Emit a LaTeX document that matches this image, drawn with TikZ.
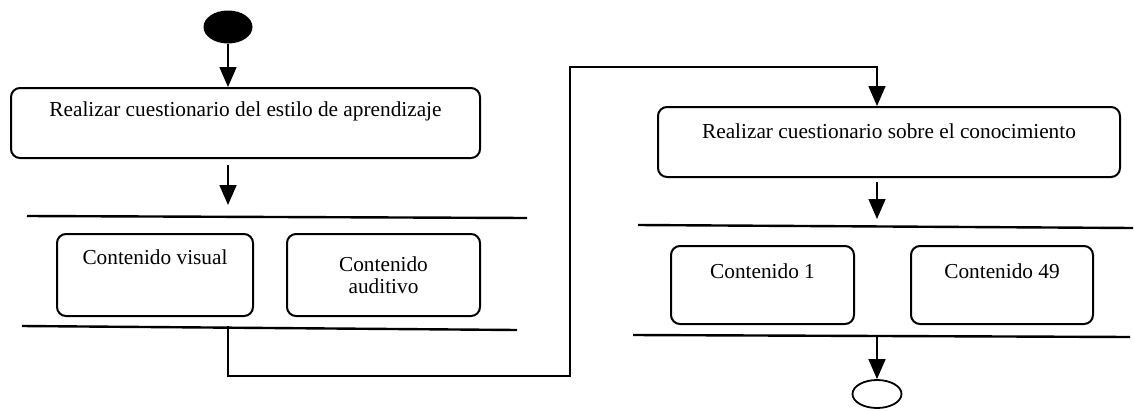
\documentclass[tikz,border=0pt]{standalone}
\usepackage{fontspec}
\setmainfont{Liberation Serif}
\usetikzlibrary{arrows.meta,shapes.geometric}

\tikzset{
  caja/.style={draw, line width=2pt, rounded corners=9pt, inner xsep=0pt, inner ysep=0pt},
  barra/.style={line width=2.4pt},
  flecha/.style={line width=1.6pt, -{Triangle[width=17pt,length=20pt]}},
  linea/.style={line width=1.6pt}
}

\begin{document}
\begin{tikzpicture}[x=1pt, y=-1pt, font=\fontsize{21.3}{22}\selectfont]
\useasboundingbox (0,0) rectangle (1135,410);

% Inicio y primer cuestionario
\node[ellipse, fill=black, minimum width=49pt, minimum height=33pt, inner sep=0pt] (inicio) at (228,27) {};
\node[caja, anchor=north west, minimum width=469pt, text height=28pt, text depth=42pt] (cuest1) at (10,87) {Realizar cuestionario del estilo de aprendizaje};
\draw[flecha] (inicio) -- (inicio |- cuest1.north);

% Bifurcacion por estilo
\coordinate (b1i) at (27,216);
\coordinate (b1d) at (527,218);
\draw[barra] (b1i) -- (b1d);
\draw[flecha, shorten <=6pt, shorten >=11pt] (inicio |- cuest1.south) -- (inicio |- b1i);

\node[caja, anchor=north west, minimum width=196pt, text height=30pt, text depth=52pt] (visual) at (56,233) {Contenido visual};
\node[caja, anchor=north west, minimum width=193pt, minimum height=82pt, align=center] (auditivo) at (286,233) {Contenido\\auditivo};

\coordinate (u1i) at (22,326);
\coordinate (u1d) at (517,330);
\draw[barra] (u1i) -- (u1d);

% Vuelta hacia el segundo cuestionario
\node[caja, anchor=north west, minimum width=462pt, text height=31pt, text depth=39pt] (cuest2) at (657,106) {Realizar cuestionario sobre el conocimiento};
\node[ellipse, draw, line width=1.8pt, minimum width=49pt, minimum height=28pt, inner sep=0pt] (fin) at (877,394) {};
\coordinate (vuelta1) at (570,376);
\coordinate (vuelta2) at (570,67);
\draw[flecha] (inicio |- u1i) |- (vuelta1) -- (vuelta2) -| (cuest2.north -| fin);

% Bifurcacion por contenido
\coordinate (b2i) at (638,225);
\coordinate (b2d) at (1133,228);
\draw[barra] (b2i) -- (b2d);
\draw[flecha, shorten <=4pt, shorten >=6pt] (fin |- cuest2.south) -- (fin |- b2i);

\node[caja, anchor=north west, minimum width=183pt, text height=32pt, text depth=46pt] (cont1) at (670,245) {Contenido 1};
\node[caja, anchor=north west, minimum width=182pt, text height=32pt, text depth=46pt] (cont49) at (910,245) {Contenido 49};

\coordinate (u2i) at (633,335);
\coordinate (u2d) at (1130,337);
\draw[barra] (u2i) -- (u2d);
\draw[flecha] (fin |- u2i) -- (fin.north);
\end{tikzpicture}
\end{document}
